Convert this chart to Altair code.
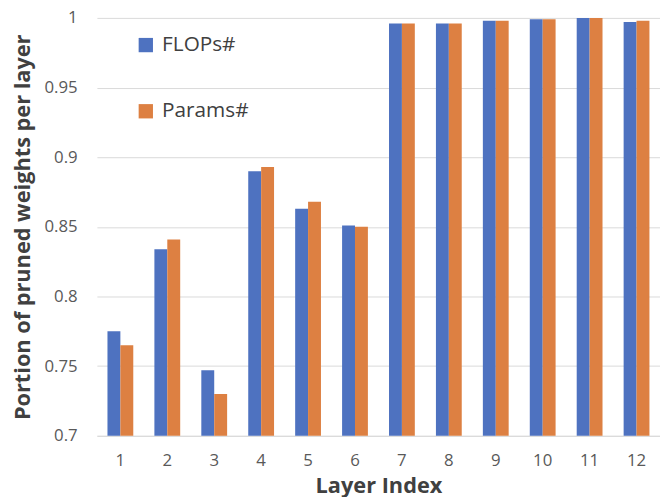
import altair as alt
import pandas as pd

layers = [1, 2, 3, 4, 5, 6, 7, 8, 9, 10, 11, 12]
flops = [0.775, 0.834, 0.747, 0.890, 0.863, 0.851, 0.996, 0.996, 0.998, 0.999, 1.000, 0.997]
params = [0.765, 0.841, 0.730, 0.893, 0.868, 0.850, 0.996, 0.996, 0.998, 0.999, 1.000, 0.998]
series = ["FLOPs#", "Params#"]
colors = ["#4E72C0", "#DD8042"]

rows = []
for i, l in enumerate(layers):
    rows.append({"layer": l, "series": series[0], "value": flops[i]})
    rows.append({"layer": l, "series": series[1], "value": params[i]})
df = pd.DataFrame(rows)

font = "Open Sans"

chart = alt.Chart(df).mark_bar().encode(
    x=alt.X("layer:O", title="Layer Index",
            scale=alt.Scale(paddingInner=0.45, paddingOuter=0.225),
            axis=alt.Axis(labelAngle=0, labelFontSize=17, labelColor="#595959",
                          labelPadding=17, ticks=False, domainColor="#D9D9D9",
                          titleFontSize=22, titleFontWeight="bold", titleColor="#404040",
                          titlePadding=7, labelFont=font, titleFont=font)),
    xOffset=alt.XOffset("series:N", sort=series),
    y=alt.Y("value:Q", title="Portion of pruned weights per layer",
            scale=alt.Scale(domain=[0.7, 1.0], zero=False, nice=False),
            axis=alt.Axis(values=[0.7, 0.75, 0.8, 0.85, 0.9, 0.95, 1.0],
                          labelExpr="format(datum.value, '.2~f')",
                          labelFontSize=17, labelColor="#595959", labelPadding=20,
                          ticks=False, domain=False, gridColor="#D9D9D9",
                          titleFontSize=22, titleFontWeight="bold", titleColor="#404040",
                          titlePadding=10, titleLimit=700, labelFont=font, titleFont=font)),
    y2=alt.datum(0.7),
    color=alt.Color("series:N", sort=series,
                    scale=alt.Scale(domain=series, range=colors),
                    legend=alt.Legend(title=None, orient="none", legendX=39, legendY=17,
                                      symbolType="square", symbolSize=210,
                                      symbolStrokeWidth=0, labelFontSize=21,
                                      labelColor="#404040", labelFont=font,
                                      rowPadding=45, labelOffset=6)),
).properties(
    width=570, height=423,
    autosize=alt.AutoSizeParams(type="none"),
    padding={"left": 90, "top": 7, "right": 0, "bottom": 64},
).configure_view(stroke=None)

chart.save("out.html", embed_options={"renderer": "svg", "actions": False})
